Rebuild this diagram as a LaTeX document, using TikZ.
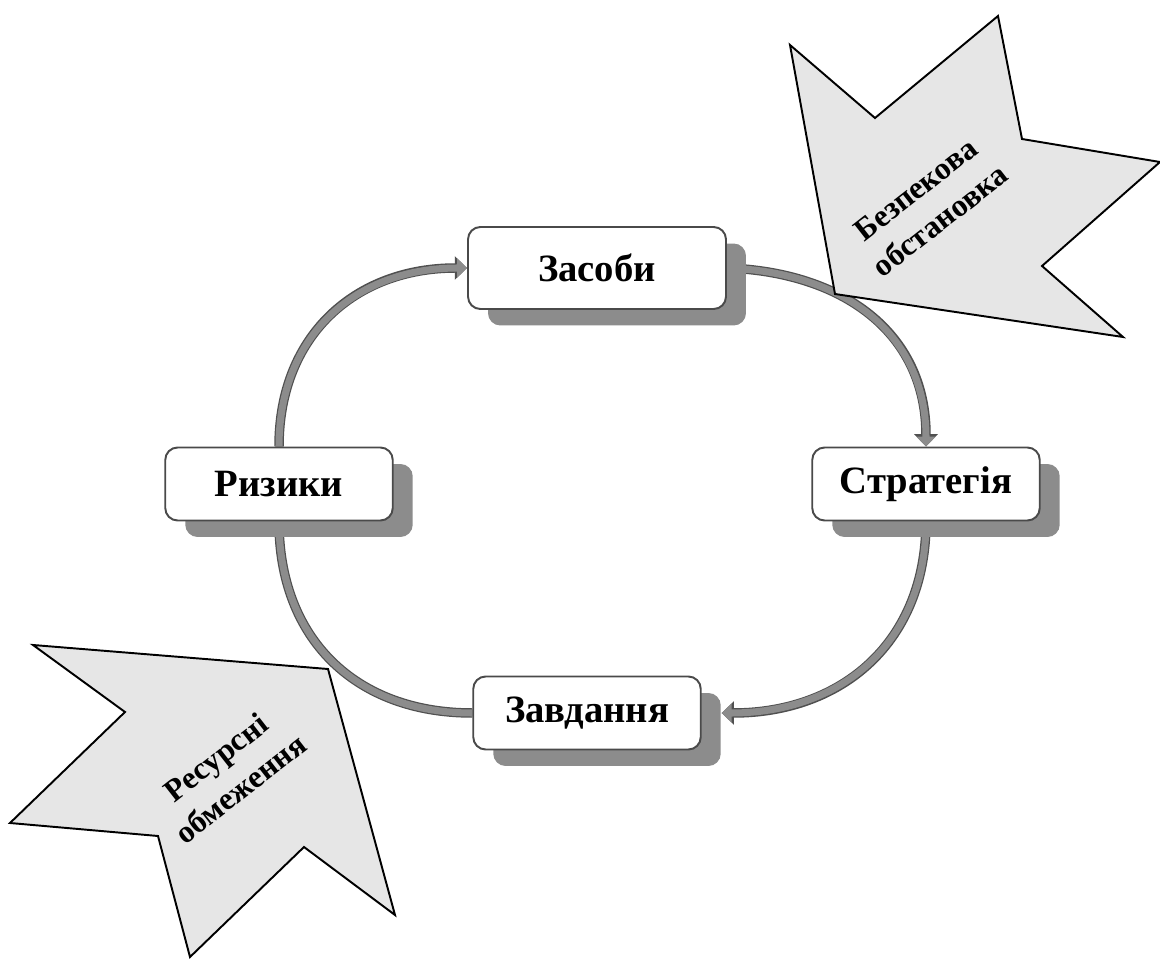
\documentclass[tikz,border=0pt]{standalone}
\usepackage{fontspec}
\setmainfont{Liberation Serif}
\usetikzlibrary{shadows,arrows.meta,backgrounds}
\definecolor{ringgray}{HTML}{8C8C8C}
\definecolor{ringedge}{HTML}{505050}
\definecolor{starfill}{HTML}{E6E6E6}
\definecolor{boxedge}{HTML}{4A4A4A}
\tikzset{
  box/.style={draw=boxedge, line width=1.1pt, fill=white, rounded corners=7pt,
    minimum width=4.55cm, minimum height=1.46cm, inner sep=0pt,
    font=\fontsize{22}{26}\selectfont\bfseries,
    drop shadow={shadow xshift=0.4cm, shadow yshift=-0.33cm, fill=black!45, opacity=1}},
  ringout/.style={line width=5.4pt, draw=ringedge, -{Triangle[width=13pt,length=7pt]}},
  ringin/.style={line width=4pt, draw=ringgray, -{Triangle[width=10.5pt,length=5.6pt,fill=ringgray]}},
  startshape/.style={draw=black, line width=1.1pt, fill=starfill, line join=miter},
  startext/.style={font=\fontsize{18}{22.5}\selectfont\bfseries, align=center, rotate=38, inner sep=0pt}
}
\begin{document}
\begin{tikzpicture}[x=0.02cm, y=-0.02cm]
\useasboundingbox (0,0) rectangle (1160,959);
% boxes
\node[box, minimum width=5.16cm, minimum height=1.64cm] (zas) at (597,268) {Засоби};
\node[box] (riz) at (279,484) {Ризики};
\node[box] (str) at (926,484) {Стратегія};
\node[box] (zav) at (587,713) {Завдання};
\coordinate (zavsh) at ([xshift=0.4cm]zav.east);
% ring arcs
\begin{scope}[on background layer]
\foreach \st in {ringout, ringin} {
  \draw[\st] (riz.north) to[out=90, in=180, looseness=1.1] (zas.west);
  \draw[\st] (zas.east) to[out=-2, in=90, looseness=1.1] (str.north);
  \draw[\st] (str.south) to[out=-90, in=0, looseness=1.1] (zavsh);
  \draw[\st, -] (zav.west) to[out=180, in=-90, looseness=1.1] (riz.south);
}
\end{scope}
% top-right star
\draw[startshape] (790,45) -- (875,118) -- (998,16) -- (1022,139) -- (1160,162)
  -- (1042,266) -- (1123,337) -- (835,294) -- cycle;
\node[startext] (bez) at (928,205) {Безпекова\\обстановка};
% bottom-left star
\draw[startshape] (33,645) -- (328,669) -- (395,915) -- (304,847) -- (190,957)
  -- (158,836) -- (10,823) -- (125,712) -- cycle;
\node[startext] (res) at (228,773) {Ресурсні\\обмеження};
\end{tikzpicture}
\end{document}
